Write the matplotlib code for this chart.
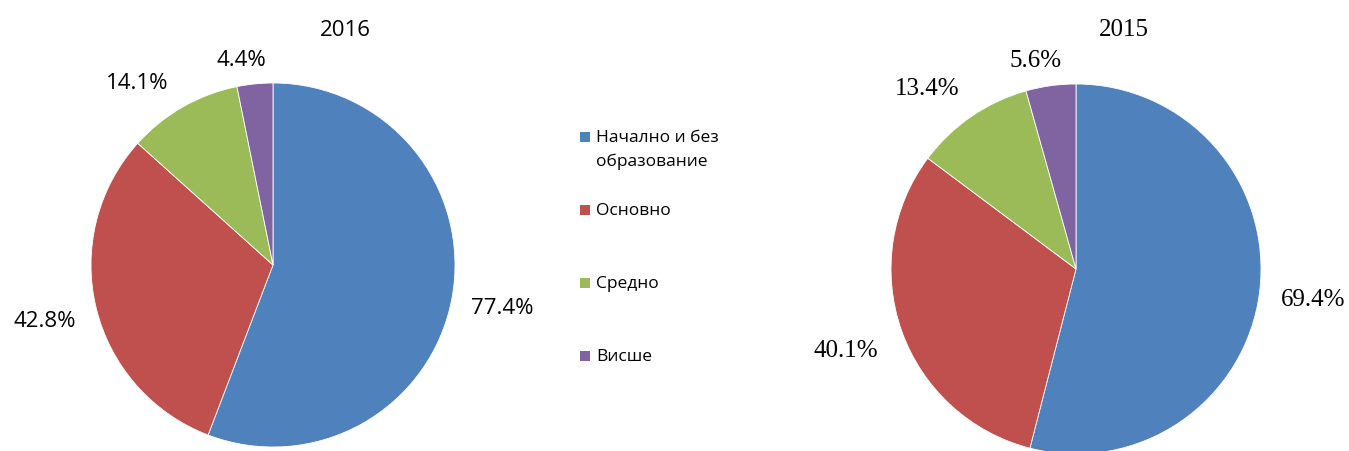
import numpy as np
import matplotlib
matplotlib.use("Agg")
import matplotlib.pyplot as plt
from matplotlib.patches import Rectangle

categories = ["Начално и без\nобразование", "Основно", "Средно", "Висше"]
values_2016 = [77.4, 42.8, 14.1, 4.4]
values_2015 = [69.4, 40.1, 13.4, 5.6]
labels_2016 = ["77.4%", "42.8%", "14.1%", "4.4%"]
labels_2015 = ["69.4%", "40.1%", "13.4%", "5.6%"]
colors = ["#4F81BD", "#C0504D", "#9BBB59", "#8064A2"]

W, H = 1349, 452
fig = plt.figure(figsize=(W / 100, H / 100), dpi=100)

SANS = ["Open Sans", "DejaVu Sans"]
SERIF = ["Liberation Serif", "DejaVu Serif"]


def pie_axes(cx, cy, r):
    return fig.add_axes([(cx - r) / W, (H - cy - r) / H, 2 * r / W, 2 * r / H])


def draw_pie(ax, vals, labels, dists, offsets, font, fsize):
    wedges, _ = ax.pie(vals, colors=colors, startangle=90, counterclock=False,
                       wedgeprops=dict(edgecolor="white", linewidth=0.6))
    for w, lab, d, off in zip(wedges, labels, dists, offsets):
        th = np.deg2rad((w.theta1 + w.theta2) / 2 + off)
        ax.text(d * np.cos(th), d * np.sin(th), lab, ha="center", va="center",
                family=font, fontsize=fsize, color="black")
    ax.set_xlim(-1, 1)
    ax.set_ylim(-1, 1)
    ax.set_aspect("equal")
    ax.axis("off")
    return wedges


ax1 = pie_axes(273, 266, 182)
draw_pie(ax1, values_2016, labels_2016, [1.28, 1.29, 1.25, 1.14], [0, 0, 7, 3], SANS, 16)

ax2 = pie_axes(1076, 270, 185)
draw_pie(ax2, values_2015, labels_2015, [1.29, 1.32, 1.27, 1.15], [0, 0, 5, 3], SERIF, 18)

fig.text(345 / W, 1 - 30 / H, "2016", ha="center", va="center", family=SANS, fontsize=16)
fig.text(1124 / W, 1 - 30 / H, "2015", ha="center", va="center", family=SERIF, fontsize=18)

# legend
leg_y = [138, 211, 284, 357]
for cat, col, y in zip(categories, colors, leg_y):
    fig.patches.append(Rectangle((580 / W, 1 - (y + 5) / H), 10 / W, 10 / H,
                                 transform=fig.transFigure, facecolor=col,
                                 edgecolor="none"))
    fig.text(596 / W, 1 - (y - 8) / H, cat, ha="left", va="top", family=SANS,
             fontsize=12.5, linespacing=1.6)

fig.savefig("out.png", dpi=100)
